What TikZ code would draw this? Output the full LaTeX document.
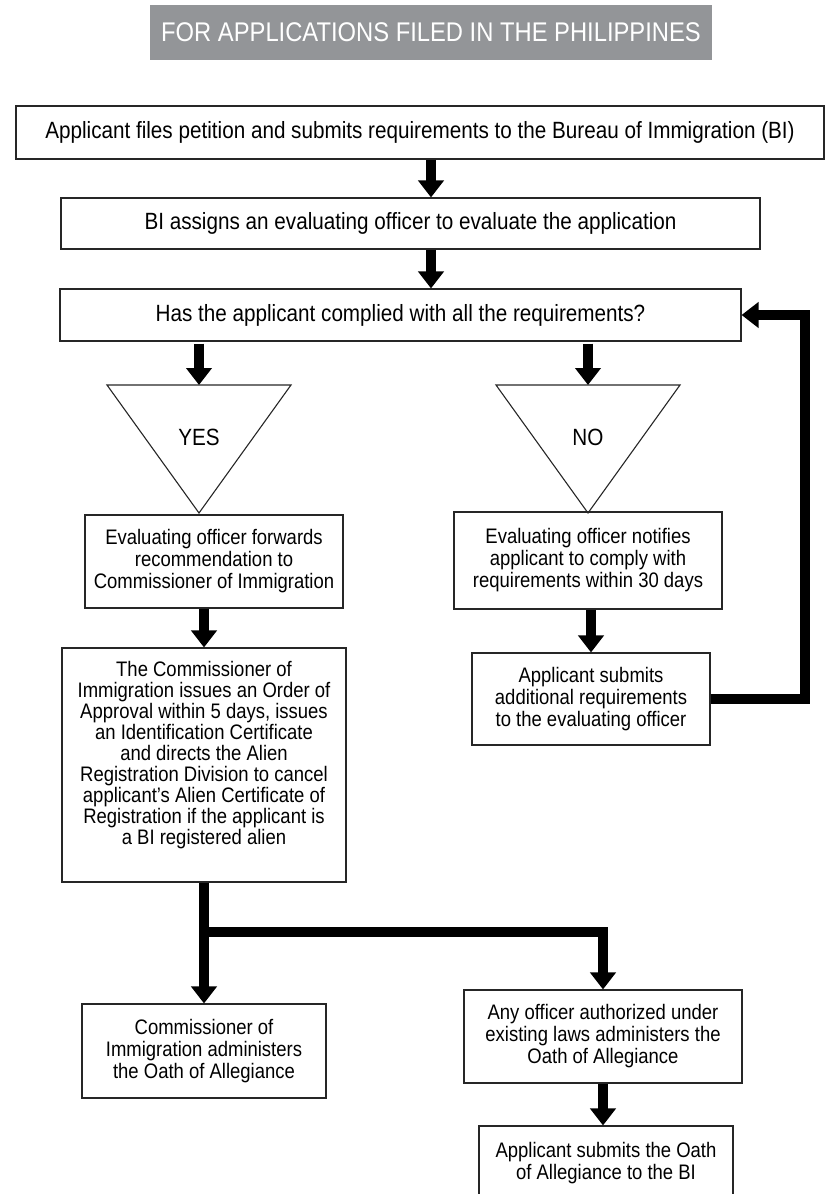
\documentclass[tikz,border=0pt]{standalone}
\usepackage{fontspec}
\setmainfont{Liberation Sans}[FakeStretch=0.88]
\usetikzlibrary{arrows.meta,positioning}
\definecolor{bargray}{HTML}{939598}

\tikzset{
  box/.style={draw=black!85, line width=1.1pt, align=center, inner sep=0pt, font=\fontsize{21}{22}\selectfont},
  bigtext/.style={font=\fontsize{23.5}{26}\selectfont},
  fat/.style={line width=10pt, -{Triangle[width=25pt,length=17pt]}},
  tri/.style={draw=black!85, line width=1.1pt, line join=miter},
}

\begin{document}
\begin{tikzpicture}[x=1pt,y=-1pt]
\useasboundingbox (0,0) rectangle (839,1194);

\def\xyes{199}
\def\xno{588}
\def\ytri{385}
\def\yapex{513}
\def\half{92}

\node[fill=bargray, text=white, minimum width=562pt, minimum height=55pt, inner sep=0pt,
  font=\fontsize{27}{28}\selectfont] (title) at (431,32.5) {FOR APPLICATIONS FILED IN THE PHILIPPINES};

\node[box, bigtext, minimum width=808pt, minimum height=53pt] (b1) at (420,132.5)
  {Applicant files petition and submits requirements to the Bureau of Immigration (BI)};
\node[box, bigtext, minimum width=699pt, minimum height=51pt] (b2) at (410.5,223.5)
  {BI assigns an evaluating officer to evaluate the application};
\node[box, bigtext, minimum width=681pt, minimum height=52pt] (b3) at (400.5,315)
  {Has the applicant complied with all the requirements?};

\coordinate (mid) at (431,0);
\draw[fat] (b1.south -| mid) -- (b2.north -| mid);
\draw[fat] (b2.south -| mid) -- (b3.north -| mid);

% yes / no
\coordinate (yestop) at (\xyes,\ytri);
\coordinate (notop) at (\xno,\ytri);
\draw[tri] (\xyes-\half,\ytri) -- (\xyes+\half,\ytri) -- (\xyes,\yapex) -- cycle;
\draw[tri] (\xno-\half,\ytri) -- (\xno+\half,\ytri) -- (\xno,\yapex) -- cycle;
\node[bigtext] (yes) at (\xyes,437) {YES};
\node[bigtext] (no) at (\xno,437) {NO};
\draw[fat] ([yshift=-2pt]b3.south -| yestop) -- (yestop);
\draw[fat] ([yshift=-2pt]b3.south -| notop) -- (notop);

\node[box, minimum width=258pt, minimum height=93pt] (b4) at (214,561.5)
  {Evaluating officer forwards\\recommendation to\\Commissioner of Immigration};
\node[box, minimum width=268pt, minimum height=97pt] (b5) at (588,560.5)
  {Evaluating officer notifies\\applicant to comply with\\requirements within 30 days};

\node[box, minimum width=284pt, minimum height=234pt] (b6) at (204,765) {};
\node[font=\fontsize{21}{21}\selectfont, align=center, inner sep=0pt, below=14pt of b6.north] (b6text)
  {The Commissioner of\\Immigration issues an Order of\\Approval within 5 days, issues\\an Identification Certificate\\and directs the Alien\\Registration Division to cancel\\applicant's Alien Certificate of\\Registration if the applicant is\\a BI registered alien};
\node[box, minimum width=238pt, minimum height=92pt] (b7) at (591,699)
  {Applicant submits\\additional requirements\\to the evaluating officer};

\draw[fat] (b4.south -| b6.north) -- (b6.north);
\draw[fat] (b5.south -| b7.north) -- (b7.north);

% back to the question
\coordinate (loop) at (805,316);
\draw[fat] (b7.east) -| (loop) |- (b3.east);

\node[box, minimum width=244pt, minimum height=94pt] (b8) at (204,1051)
  {Commissioner of\\Immigration administers\\the Oath of Allegiance};
\node[box, minimum width=278pt, minimum height=93pt] (b9) at (603,1036.5)
  {Any officer authorized under\\existing laws administers the\\Oath of Allegiance};
\node[box, minimum width=254pt, minimum height=74pt] (b10) at (606,1163)
  {Applicant submits the Oath\\of Allegiance to the BI};

\coordinate (split) at (204,932);
\draw[fat] (b6.south) -- (b8.north);
\draw[fat] (split) -| (b9.north);
\draw[fat] (b9.south) -- (b9.south |- b10.north);

\end{tikzpicture}
\end{document}
